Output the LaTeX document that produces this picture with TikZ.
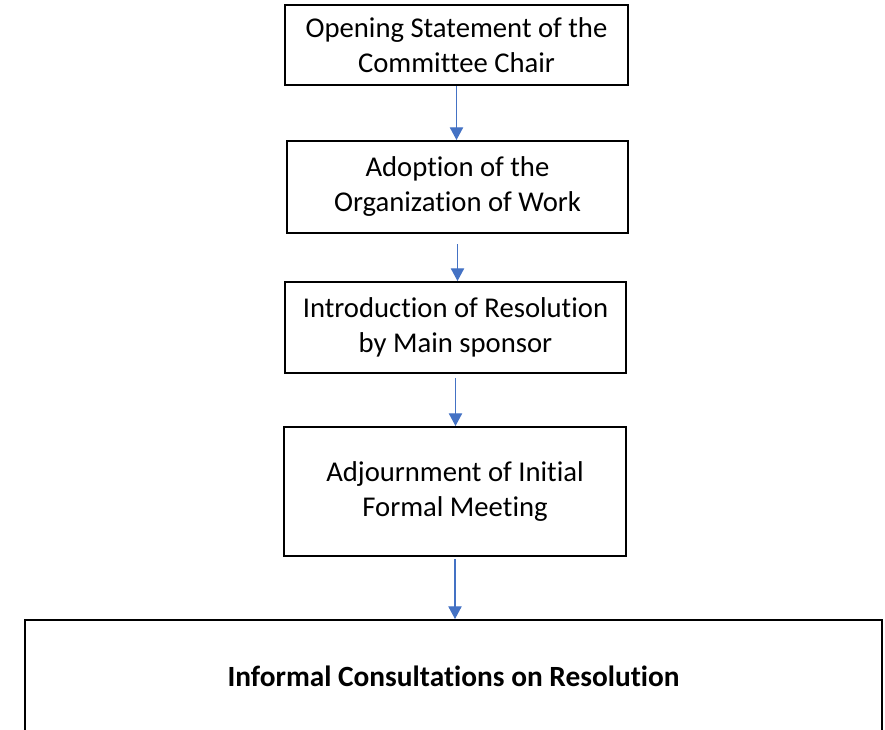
\documentclass[tikz,border=0pt]{standalone}
\usepackage{fontspec}
\setmainfont{Carlito}[Ligatures=NoCommon]
\usepackage{tikz}
\usetikzlibrary{arrows.meta, positioning}
\definecolor{flowblue}{HTML}{4472C4}

\begin{document}
\begin{tikzpicture}[x=0.75pt, y=-0.75pt,
    stagebox/.style={draw, line width=1.5pt, align=center, inner sep=0pt,
        font=\fontsize{21.5}{26.25}\selectfont},
    flow/.style={flowblue, line width=0.8pt, -{Triangle[width=10pt, length=9.5pt]}}]

    % ==========================================
    % PAGE FRAME
    % ==========================================
    \def\px{0.75pt} % one pixel of the page
    \useasboundingbox (0, 0) rectangle (885, 729);

    % ==========================================
    % STAGES OF THE MEETING
    % ==========================================
    \node[stagebox, minimum width=343*\px, minimum height=80*\px] (opening) at (456.5, 45)
        {Opening Statement of the\\Committee Chair};
    \node[stagebox, minimum width=341*\px, minimum height=92*\px] (adoption) at (457.5, 187)
        {Adoption of the\\Organization of Work};
    \node[stagebox, minimum width=341*\px, minimum height=91*\px] (intro) at (455.5, 327.5)
        {Introduction of Resolution\\by Main sponsor};
    \node[stagebox, minimum width=342*\px, minimum height=129*\px] (adjourn) at (455, 491.5)
        {Adjournment of Initial\\Formal Meeting};

    % the last box runs past the bottom edge of the page
    \node[stagebox, minimum width=857*\px, minimum height=112*\px,
        font=\fontsize{22}{26.25}\selectfont\bfseries] (consult) at (453.5, 676)
        {Informal Consultations on Resolution};

    % ==========================================
    % CONNECTORS
    % ==========================================
    \draw[flow] (opening.south) -- (opening.south |- adoption.north);
    \draw[flow, shorten <=7.5pt] (adoption.south) -- (adoption.south |- intro.north);
    \draw[flow, shorten <=3pt] (intro.south) -- (intro.south |- adjourn.north);
    \draw[flow, shorten <=1.5pt] (adjourn.south) -- (adjourn.south |- consult.north);

\end{tikzpicture}
\end{document}
